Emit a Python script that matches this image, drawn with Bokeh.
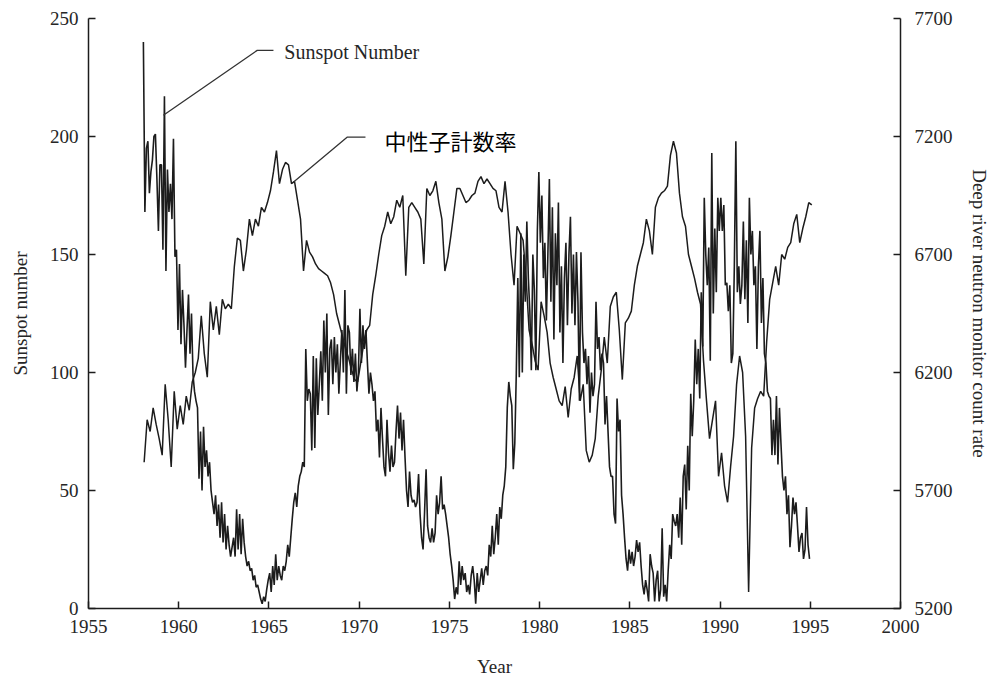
import numpy as np
from bokeh.plotting import figure
from bokeh.models import Range1d, LinearAxis, FixedTicker, Label
from bokeh.embed import file_html
from bokeh.resources import INLINE

# ---------------- data ----------------
year_ticks = [1955, 1960, 1965, 1970, 1975, 1980, 1985, 1990, 1995, 2000]
sunspot_ticks = [0, 50, 100, 150, 200, 250]
neutron_ticks = [5200, 5700, 6200, 6700, 7200, 7700]

# monthly sunspot number, one row per year starting 1958
sunspot_first_year = 1958
sunspot_monthly = [
    [240, 168, 195, 198, 176, 185, 190, 200, 201, 182, 160, 188],  # 1958
    [188, 152, 217, 143, 186, 168, 180, 165, 199, 149, 152, 118],  # 1959
    [146, 112, 135, 120, 102, 118, 133, 108, 125, 99, 92, 88],     # 1960
    [85, 55, 75, 50, 77, 60, 67, 56, 62, 50, 45, 40],              # 1961
    [48, 35, 44, 30, 45, 28, 40, 25, 35, 27, 22, 26],              # 1962
    [30, 22, 42, 25, 40, 23, 38, 28, 22, 18, 20, 16],              # 1963
    [17, 12, 14, 9, 10, 7, 4, 2, 5, 3, 8, 12],                     # 1964
    [15, 7, 18, 10, 23, 12, 18, 14, 12, 18, 16, 20],               # 1965
    [27, 22, 30, 38, 45, 49, 43, 52, 56, 58, 62, 60],              # 1966
    [110, 88, 93, 91, 67, 107, 68, 106, 82, 95, 109, 88],          # 1967
    [122, 100, 125, 82, 110, 114, 95, 115, 100, 112, 91, 105],     # 1968
    [118, 100, 135, 91, 120, 117, 99, 110, 96, 108, 92, 100],      # 1969
    [127, 104, 120, 110, 118, 104, 91, 100, 95, 88, 92, 75],       # 1970
    [80, 64, 85, 72, 60, 56, 80, 66, 58, 69, 60, 62],              # 1971
    [75, 86, 72, 83, 67, 80, 64, 50, 43, 58, 48, 45],              # 1972
    [46, 43, 45, 57, 40, 30, 25, 41, 59, 35, 30, 28],              # 1973
    [34, 28, 32, 48, 40, 45, 56, 42, 44, 40, 35, 30],              # 1974
    [23, 18, 12, 4, 9, 6, 20, 10, 18, 12, 15, 7],                  # 1975
    [10, 6, 14, 18, 12, 2, 15, 7, 12, 17, 10, 16],                 # 1976
    [18, 14, 27, 22, 35, 23, 30, 40, 27, 43, 38, 48],              # 1977
    [52, 60, 85, 96, 90, 86, 59, 70, 100, 140, 98, 159],           # 1978
    [100, 150, 130, 164, 140, 126, 101, 150, 135, 101, 160, 185],  # 1979
    [155, 175, 140, 155, 122, 150, 182, 130, 170, 114, 159, 137],  # 1980
    [172, 117, 145, 104, 140, 155, 120, 150, 166, 125, 150, 120],  # 1981
    [151, 130, 88, 151, 117, 104, 110, 95, 107, 83, 100, 90],      # 1982
    [95, 130, 110, 115, 101, 108, 104, 78, 90, 75, 60, 56],        # 1983
    [56, 40, 36, 89, 75, 80, 48, 40, 30, 21, 16, 25],              # 1984
    [19, 24, 18, 22, 29, 24, 28, 18, 10, 6, 12, 8],                # 1985
    [3, 23, 18, 15, 3, 12, 16, 3, 8, 34, 5, 10],                   # 1986
    [3, 16, 27, 21, 40, 37, 35, 40, 30, 47, 27, 56],               # 1987
    [61, 42, 69, 50, 91, 73, 88, 114, 95, 110, 89, 134],           # 1988
    [111, 174, 150, 137, 153, 105, 193, 125, 161, 134, 174, 160],  # 1989
    [174, 160, 171, 137, 138, 126, 137, 104, 108, 145, 198, 134],  # 1990
    [145, 129, 137, 164, 131, 156, 121, 174, 150, 160, 137, 145],  # 1991
    [110, 145, 160, 121, 140, 108, 104, 92, 90, 89, 65, 80],       # 1992
    [65, 90, 61, 85, 70, 56, 50, 56, 40, 48, 26, 35],              # 1993
    [47, 40, 45, 35, 24, 30, 32, 21, 25, 43, 27, 21],              # 1994
]

# bimonthly Deep River neutron monitor count rate, one row per year from 1958
neutron_first_year = 1958
neutron_bimonthly = [
    [5820, 6000, 5950, 6050, 5980, 5920],  # 1958
    [5850, 6150, 6000, 5800, 6120, 5960],  # 1959
    [6060, 5980, 6100, 6040, 6160, 6200],  # 1960
    [6260, 6440, 6280, 6180, 6500, 6380],  # 1961
    [6480, 6360, 6510, 6470, 6490, 6470],  # 1962
    [6650, 6770, 6760, 6630, 6720, 6850],  # 1963
    [6780, 6850, 6820, 6900, 6880, 6920],  # 1964
    [6970, 7050, 7140, 7000, 7060, 7090],  # 1965
    [7080, 7000, 7010, 6930, 6850, 6630],  # 1966
    [6760, 6710, 6690, 6660, 6640, 6630],  # 1967
    [6620, 6610, 6580, 6530, 6450, 6400],  # 1968
    [6350, 6300, 6260, 6210, 6170, 6160],  # 1969
    [6240, 6320, 6380, 6400, 6530, 6610],  # 1970
    [6700, 6780, 6820, 6880, 6830, 6860],  # 1971
    [6930, 6900, 6950, 6610, 6900, 6920],  # 1972
    [6900, 6880, 6850, 6660, 6980, 6950],  # 1973
    [6970, 7010, 6920, 6850, 6630, 6690],  # 1974
    [6780, 6880, 6980, 6980, 6950, 6920],  # 1975
    [6930, 6950, 6960, 7010, 7030, 7000],  # 1976
    [7020, 7000, 6980, 6970, 6900, 6880],  # 1977
    [7010, 6880, 6700, 6570, 6820, 6790],  # 1978
    [6760, 6600, 6380, 6320, 6250, 6210],  # 1979
    [6500, 6440, 6370, 6240, 6180, 6130],  # 1980
    [6080, 6060, 6140, 6010, 6130, 6180],  # 1981
    [6270, 6080, 6150, 5870, 5820, 5850],  # 1982
    [5920, 6100, 6210, 6350, 6240, 6480],  # 1983
    [6520, 6540, 6380, 6170, 6410, 6430],  # 1984
    [6460, 6570, 6650, 6700, 6750, 6850],  # 1985
    [6800, 6700, 6900, 6940, 6960, 6970],  # 1986
    [6990, 7120, 7180, 7130, 6960, 6860],  # 1987
    [6820, 6700, 6650, 6600, 6540, 6490],  # 1988
    [6250, 6080, 5920, 6000, 6080, 5760],  # 1989
    [5860, 5720, 5650, 5800, 5930, 6150],  # 1990
    [6270, 6200, 5930, 5270, 5880, 6050],  # 1991
    [6090, 6120, 6100, 6330, 6510, 6580],  # 1992
    [6650, 6570, 6700, 6680, 6730, 6750],  # 1993
    [6830, 6870, 6750, 6810, 6860, 6920],  # 1994
    [6910],                                # 1995
]

# ---------------- build series on a time axis ----------------
ss_vals = [v for row in sunspot_monthly for v in row]
ss_x = [sunspot_first_year + (i + 0.5) / 12 for i in range(len(ss_vals))]
nm_vals = [v for row in neutron_bimonthly for v in row]
nm_x = [neutron_first_year + (i + 0.5) / 6 for i in range(len(nm_vals))]

SERIF = "Liberation Serif"
INK = "#1c1c1c"

p = figure(width=992, height=679, output_backend="svg", toolbar_location=None,
           x_range=Range1d(1955, 2000), y_range=Range1d(0, 250),
           min_border_left=88, min_border_right=89, min_border_top=18,
           min_border_bottom=70)
p.extra_y_ranges = {"nm": Range1d(5200, 7700)}
p.outline_line_color = None
p.xgrid.visible = False
p.ygrid.visible = False
p.background_fill_color = "white"
p.border_fill_color = "white"

p.line(ss_x, ss_vals, line_color=INK, line_width=1.6)
p.line(nm_x, nm_vals, line_color=INK, line_width=1.5, y_range_name="nm")

right = LinearAxis(y_range_name="nm")
p.add_layout(right, "right")


def style(ax, ticks, label, label_standoff, major_standoff):
    ax.ticker = FixedTicker(ticks=ticks)
    ax.axis_label = label
    ax.axis_line_color = INK
    ax.axis_line_width = 1.5
    ax.major_tick_line_color = INK
    ax.major_tick_line_width = 1.5
    ax.major_tick_in = 7
    ax.major_tick_out = 0
    ax.minor_tick_in = 0
    ax.minor_tick_out = 0
    ax.major_label_text_font = SERIF
    ax.major_label_text_font_size = "19px"
    ax.major_label_text_color = "#262626"
    ax.major_label_standoff = major_standoff
    ax.axis_label_text_font = SERIF
    ax.axis_label_text_font_size = "19px"
    ax.axis_label_text_font_style = "normal"
    ax.axis_label_text_color = "#262626"
    ax.axis_label_standoff = label_standoff


style(p.xaxis[0], year_ticks, "Year", 20, 11)
style(p.yaxis[0], sunspot_ticks, "Sunspot number", 16, 10)
style(right, neutron_ticks, "Deep river neutron monitor count rate", 13, 14)

# annotation leader lines and labels (data coordinates)
sunspot_leader_x = [1959.15, 1964.35, 1965.25]
sunspot_leader_y = [209, 236.5, 236.5]
neutron_leader_x = [1966.35, 1969.33, 1970.35]
neutron_leader_y = [180.6, 199.7, 199.7]

p.line(sunspot_leader_x, sunspot_leader_y, line_color="#333333", line_width=1.3)
p.line(neutron_leader_x, neutron_leader_y, line_color="#333333", line_width=1.3)

p.add_layout(Label(x=1965.85, y=236, text="Sunspot Number", text_font=SERIF,
                   text_font_size="20px", text_color="#262626",
                   text_baseline="middle"))
p.add_layout(Label(x=1971.4, y=198.5, text="中性子計数率",
                   text_font="Noto Sans CJK JP", text_font_size="22px",
                   text_color="black", text_baseline="middle"))

open("out.html", "w").write(file_html(p, INLINE))
